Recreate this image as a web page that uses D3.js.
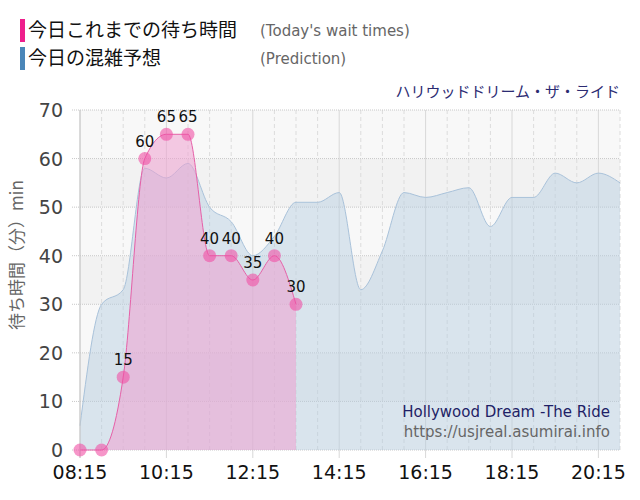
<!DOCTYPE html>
<html lang="ja">
  <head>
    <meta charset="utf-8" />
    <style>
      html, body { margin: 0; padding: 0; background: #fff; }
      svg { display: block; }
    </style>
    <script src="https://d3js.org/d3.v7.min.js"></script>
  </head>
  <body>
    <svg width="640" height="500"></svg>
    <script>
      // prediction, every 30 min
      var predTimes = ['08:15','08:45','09:15','09:45','10:15','10:45','11:15','11:45','12:15','12:45',
        '13:15','13:45','14:15','14:45','15:15','15:45','16:15','16:45','17:15','17:45',
        '18:15','18:45','19:15','19:45','20:15','20:45'];
      var predValues = [5, 30, 33, 58, 56, 59, 50, 47, 40, 44,
        51, 51, 53, 33, 41, 53, 52, 53, 54, 46,
        52, 52, 57, 55, 57, 55];

      // today's actual wait times
      var waitTimes = ['08:15','08:45','09:15','09:45','10:15','10:45','11:15','11:45','12:15','12:45','13:15'];
      var waitValues = [0, 0, 15, 60, 65, 65, 40, 40, 35, 40, 30];

      var xTickLabels = ['08:15','10:15','12:15','14:15','16:15','18:15','20:15'];
      var yTicks = [0, 10, 20, 30, 40, 50, 60, 70];

      var font = '"DejaVu Sans", Verdana, sans-serif';
      var jpFont = '"Noto Sans CJK JP", sans-serif';

      function toMin(s) {
        var p = s.split(':');
        return +p[0] * 60 + +p[1];
      }

      var svg = d3.select('svg');
      var pl = 80, pr = 620, pt = 110, pb = 450;

      var x = d3.scaleLinear().domain([toMin('08:15'), toMin('20:45')]).range([pl, pr]);
      var y = d3.scaleLinear().domain([0, 70]).range([pb, pt]);

      // background bands
      var bands = svg.append('g');
      d3.range(0, 70, 10).forEach(function(v) {
        bands.append('rect')
          .attr('x', pl).attr('width', pr - pl)
          .attr('y', y(v + 10)).attr('height', y(v) - y(v + 10))
          .attr('fill', (v / 10) % 2 ? '#f2f2f2' : '#f8f8f8');
      });

      // grid
      var grid = svg.append('g');
      d3.range(toMin('08:15'), toMin('20:45') + 1, 30).forEach(function(m) {
        var major = (m - toMin('08:15')) % 120 === 0;
        grid.append('line')
          .attr('x1', x(m)).attr('x2', x(m))
          .attr('y1', pt).attr('y2', major ? pb + 8 : pb)
          .attr('stroke', major ? '#d8d8d8' : '#dcdcdc')
          .attr('stroke-dasharray', major ? null : '4,3');
      });
      yTicks.forEach(function(v) {
        grid.append('line')
          .attr('x1', pl - 8).attr('x2', pr)
          .attr('y1', y(v)).attr('y2', y(v))
          .attr('stroke', '#c8c8c8')
          .attr('stroke-dasharray', '1,1');
      });

      var area = d3.area()
        .curve(d3.curveMonotoneX)
        .x(function(d) { return x(toMin(d[0])); })
        .y0(y(0))
        .y1(function(d) { return y(d[1]); });
      var line = d3.line()
        .curve(d3.curveMonotoneX)
        .x(function(d) { return x(toMin(d[0])); })
        .y(function(d) { return y(d[1]); });

      var pred = d3.zip(predTimes, predValues);
      var wait = d3.zip(waitTimes, waitValues);

      svg.append('path').datum(pred)
        .attr('d', area)
        .attr('fill', 'rgba(180,205,225,0.45)');
      svg.append('path').datum(pred)
        .attr('d', line)
        .attr('fill', 'none')
        .attr('stroke', '#a9c2da')
        .attr('stroke-width', 1);

      svg.append('path').datum(wait)
        .attr('d', area)
        .attr('fill', 'rgba(238,160,208,0.55)');
      svg.append('path').datum(wait)
        .attr('d', line)
        .attr('fill', 'none')
        .attr('stroke', '#e660a8')
        .attr('stroke-width', 1);

      // left axis line
      svg.append('line')
        .attr('x1', pl).attr('x2', pl)
        .attr('y1', pt).attr('y2', pb + 8)
        .attr('stroke', '#c8c8c8');

      svg.append('g').selectAll('circle')
        .data(wait).enter().append('circle')
        .attr('cx', function(d) { return x(toMin(d[0])); })
        .attr('cy', function(d) { return y(d[1]); })
        .attr('r', 6.5)
        .attr('fill', 'rgba(240,80,165,0.6)');

      svg.append('g').selectAll('text')
        .data(wait.filter(function(d) { return d[1] > 0; }))
        .enter().append('text')
        .attr('x', function(d) { return x(toMin(d[0])); })
        .attr('y', function(d) { return y(d[1]) - 12; })
        .attr('text-anchor', 'middle')
        .attr('font-family', font)
        .attr('font-size', 15)
        .attr('fill', '#111')
        .text(function(d) { return d[1]; });

      // y tick labels
      svg.append('g').selectAll('text')
        .data(yTicks).enter().append('text')
        .attr('x', 63)
        .attr('y', function(d) { return y(d) + 7; })
        .attr('text-anchor', 'end')
        .attr('font-family', font)
        .attr('font-size', 19)
        .attr('fill', '#444')
        .text(function(d) { return d; });

      // x tick labels
      svg.append('g').selectAll('text')
        .data(xTickLabels).enter().append('text')
        .attr('x', function(d) { return x(toMin(d)); })
        .attr('y', 479)
        .attr('text-anchor', 'middle')
        .attr('font-family', font)
        .attr('font-size', 19)
        .attr('fill', '#111')
        .text(function(d) { return d; });

      svg.append('text')
        .attr('transform', 'translate(23,255) rotate(-90)')
        .attr('text-anchor', 'middle')
        .attr('font-family', jpFont)
        .attr('font-size', 17)
        .attr('fill', '#666')
        .text('待ち時間（分）min');

      // legend
      var legend = [
        { jp: '今日これまでの待ち時間', en: "(Today's wait times)", color: '#ee1f8c', y: 19 },
        { jp: '今日の混雑予想', en: '(Prediction)', color: '#4a86b8', y: 47 }
      ];
      legend.forEach(function(d) {
        svg.append('rect')
          .attr('x', 20).attr('y', d.y).attr('width', 5).attr('height', 23)
          .attr('fill', d.color);
        svg.append('text')
          .attr('x', 28).attr('y', d.y + 18)
          .attr('font-family', jpFont)
          .attr('font-size', 19)
          .attr('fill', '#111')
          .text(d.jp);
        svg.append('text')
          .attr('x', 260).attr('y', d.y + 17)
          .attr('font-family', font)
          .attr('font-size', 15)
          .attr('fill', '#666')
          .text(d.en);
      });

      svg.append('text')
        .attr('x', 620).attr('y', 97)
        .attr('text-anchor', 'end')
        .attr('font-family', jpFont)
        .attr('font-size', 15)
        .attr('fill', '#2b2b72')
        .text('ハリウッドドリーム・ザ・ライド');

      svg.append('text')
        .attr('x', 610).attr('y', 417)
        .attr('text-anchor', 'end')
        .attr('font-family', font)
        .attr('font-size', 15)
        .attr('fill', '#1f1f66')
        .text('Hollywood Dream -The Ride');
      svg.append('text')
        .attr('x', 610).attr('y', 437)
        .attr('text-anchor', 'end')
        .attr('font-family', font)
        .attr('font-size', 15)
        .attr('fill', '#666')
        .text('https://usjreal.asumirai.info');
    </script>
  </body>
</html>
